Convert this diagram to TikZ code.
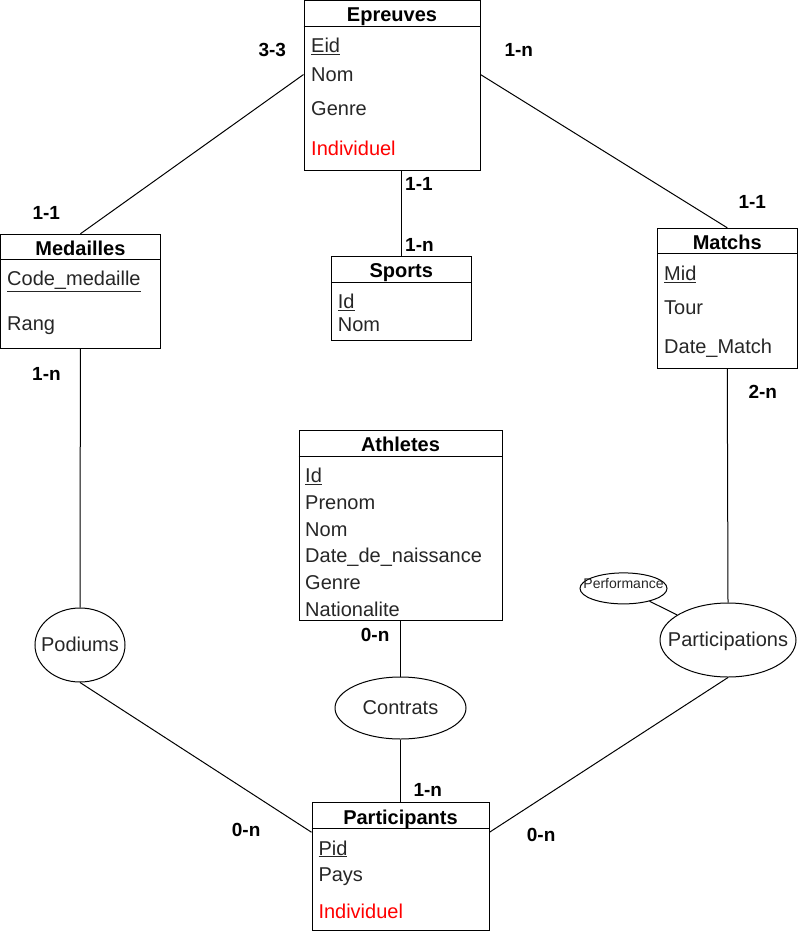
\documentclass[tikz,border=0pt]{standalone}
\usepackage{fontspec}
\setmainfont{Liberation Sans}
\usepackage{tikz}
\usetikzlibrary{shapes.geometric}
\newcommand\cle[1]{\underline{#1}}
\newcommand\sanslarg[1]{\makebox[0pt]{#1}}
\tikzset{>=stealth,
	entite/.style={draw, line width=1pt, inner sep=0pt},
	assoc/.style={draw, ellipse, line width=1pt, inner sep=0pt, text=black!85,
		font=\fontsize{20}{24}\selectfont, text height=14pt, text depth=2pt},
	titre/.style={anchor=base, inner sep=0pt, font=\bfseries\fontsize{20}{24}\selectfont},
	attr/.style={anchor=base west, inner sep=0pt, text=black!85, font=\fontsize{20}{24}\selectfont},
	card/.style={anchor=base west, inner sep=0pt, font=\bfseries\fontsize{19}{23}\selectfont},
	lien/.style={line width=1pt}
}

\begin{document}
\begin{tikzpicture}[x=1pt,y=-1pt]
		\useasboundingbox (0,0) rectangle (798,934);
		
		% entites
		\node[entite, minimum width=176pt, minimum height=169.4pt] (epr) at (392,85.4) {};
		\node[entite, minimum width=139.5pt, minimum height=83.3pt] (spo) at (401.25,298.4) {};
		\node[entite, minimum width=159.8pt, minimum height=114.4pt] (med) at (80.4,291.5) {};
		\node[entite, minimum width=139.5pt, minimum height=140pt] (mat) at (727.25,298.3) {};
		\node[entite, minimum width=203pt, minimum height=189.3pt] (ath) at (400.5,525.4) {};
		\node[entite, minimum width=177pt, minimum height=127.3pt] (par) at (400.5,866.4) {};
		
		\draw[lien] ([yshift=-26pt]epr.north west) -- ([yshift=-26pt]epr.north east);
		\draw[lien] ([yshift=-26pt]spo.north west) -- ([yshift=-26pt]spo.north east);
		\draw[lien] ([yshift=-26pt]med.north west) -- ([yshift=-26pt]med.north east);
		\draw[lien] ([yshift=-26pt]mat.north west) -- ([yshift=-26pt]mat.north east);
		\draw[lien] ([yshift=-26pt]ath.north west) -- ([yshift=-26pt]ath.north east);
		\draw[lien] ([yshift=-26pt]par.north west) -- ([yshift=-26pt]par.north east);
		
		\node[titre] (t-epr) at (392,21.7) {Epreuves};
		\node[titre] (t-spo) at (401.25,277.7) {Sports};
		\node[titre] (t-med) at (80.4,255) {Medailles};
		\node[titre] (t-mat) at (727.25,249.3) {Matchs};
		\node[titre] (t-ath) at (400.5,451.7) {Athletes};
		\node[titre] (t-par) at (400.5,824.3) {Participants};
		
		% attributs
		\node[attr] (epr-eid) at (311,52.3) {\cle{Eid}};
		\node[attr] (epr-nom) at (311,81.7) {Nom};
		\node[attr] (epr-genre) at (311,115.7) {Genre};
		\node[attr, text=red] (epr-ind) at (311,155.7) {Individuel};
		
		\node[attr] (spo-id) at (337.7,308.3) {\cle{Id}};
		\node[attr] (spo-nom) at (337.7,331.7) {Nom};
		
		\node[attr] (med-code) at (7,285.7) {\cle{Code\_medaille}};
		\node[attr] (med-rang) at (7,330) {Rang};
		
		\node[attr] (mat-mid) at (664,280.7) {\cle{Mid}};
		\node[attr] (mat-tour) at (664,314) {Tour};
		\node[attr] (mat-date) at (664,353.3) {Date\_Match};
		
		\node[attr] (ath-id) at (305,482.3) {\cle{Id}};
		\node[attr] (ath-prenom) at (305,509.3) {Prenom};
		\node[attr] (ath-nom) at (305,536) {Nom};
		\node[attr] (ath-date) at (305,562.7) {Date\_de\_naissance};
		\node[attr] (ath-genre) at (305,589.3) {Genre};
		\node[attr] (ath-nat) at (305,616.7) {Nationalite};
		
		\node[attr] (par-pid) at (318.3,855) {\cle{Pid}};
		\node[attr] (par-pays) at (318.3,881.7) {Pays};
		\node[attr, text=red] (par-ind) at (318.3,918.3) {Individuel};
		
		% associations
		\node[assoc, minimum width=90pt, minimum height=74pt] (pod) at (80,645) {\sanslarg{Podiums}};
		\node[assoc, minimum width=131pt, minimum height=62pt] (con) at (400.5,708) {\sanslarg{Contrats}};
		\node[assoc, minimum width=136pt, minimum height=74pt] (pts) at (728,640) {\sanslarg{Participations}};
		\node[assoc, minimum width=87pt, minimum height=31pt, font=\fontsize{14}{16}\selectfont,
			text height=10pt, text depth=10pt] (perf) at (623.5,588.4) {\sanslarg{Performance}};
		
		% liens
		\draw[lien] (epr.173) -- (med.north);
		\draw[lien] (epr.7) -- (mat.north);
		\draw[lien] (spo.north |- epr.south) -- (spo.north);
		\draw[lien] (med.south) -- (pod.north);
		\draw[lien] (pod.south) -- (par.159);
		\draw[lien] (ath.south) -- (con.north);
		\draw[lien] (con.south) -- (par.north);
		\draw[lien] (mat.south) -- (pts.north);
		\draw[lien] (pts.south) -- (par.21);
		\draw[lien] (perf) -- (pts);
		
		% cardinalites
		\node[card] (c-epr-med) at (258.3,56.7) {3-3};
		\node[card] (c-epr-mat) at (504.3,56.7) {1-n};
		\node[card] (c-epr-spo) at (405,190) {1-1};
		\node[card] (c-spo-epr) at (405,251.7) {1-n};
		\node[card] (c-med-epr) at (32.3,219.3) {1-1};
		\node[card] (c-med-pod) at (32,380.7) {1-n};
		\node[card] (c-mat-epr) at (738.3,208.3) {1-1};
		\node[card] (c-mat-pts) at (748.3,398.3) {2-n};
		\node[card] (c-ath-con) at (360.7,641.7) {0-n};
		\node[card] (c-par-con) at (413.3,796.7) {1-n};
		\node[card] (c-par-pod) at (231.7,836.7) {0-n};
		\node[card] (c-par-pts) at (526.7,841.7) {0-n};
		
		\end{tikzpicture}
\end{document}
